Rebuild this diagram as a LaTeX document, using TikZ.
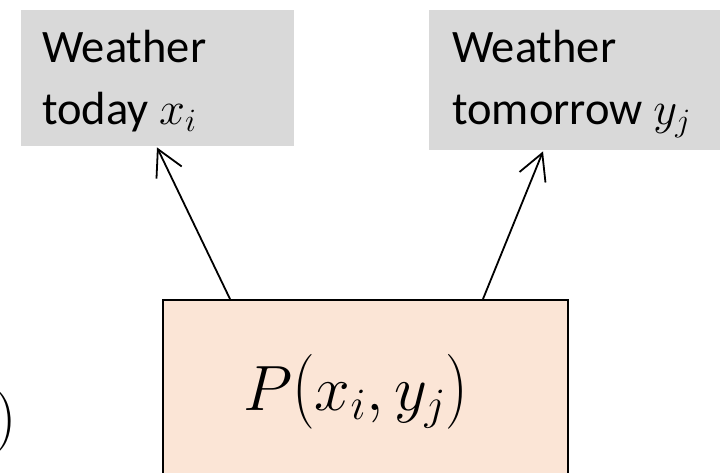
\RequirePackage{fix-cm}
\documentclass[tikz,border=0pt]{standalone}
\usepackage{fontspec}
\setmainfont{Carlito}
\usetikzlibrary{arrows.meta,calc}
\definecolor{boxgray}{HTML}{D9D9D9}
\definecolor{boxpink}{HTML}{FBE5D6}
\newcommand{\tallopen}{\mathopen{\scalebox{1}[1.17]{$($}}}
\newcommand{\tallclose}{\mathclose{\scalebox{1}[1.17]{$)$}}}
\begin{document}
\begin{tikzpicture}[x=1pt,y=-1pt,
  graybox/.style={fill=boxgray, draw=none, inner sep=0pt, anchor=north west},
  probbox/.style={fill=boxpink, draw=black, line width=2pt, inner sep=0pt, anchor=north west},
  lbl/.style={inner sep=0pt, anchor=base west, font=\fontsize{46.5}{56}\selectfont},
  arr/.style={line width=1.8pt, -{Straight Barb[length=26pt, width=28pt, line width=1.8pt]}}]
\useasboundingbox (0,0) rectangle (720,473);
\node[graybox, minimum width=273pt, minimum height=136pt] (today) at (21,10) {};
\node[graybox, minimum width=320pt, minimum height=140pt] (tomorrow) at (429,10) {};
\node[probbox, minimum width=405pt, minimum height=220pt] (joint) at (162,299) {};
\node[lbl] (t1) at (42,63) {Weather};
\node[lbl] (t2) at (42,125) {today $x_i$};
\node[lbl] (t3) at (452,63) {Weather};
\node[lbl] (t4) at (452,125) {tomorrow $y_j$};
\node[inner sep=0pt, anchor=base west, font=\fontsize{64}{76}\selectfont] (pt) at (243,410) {$P\tallopen x_i, y_j\tallclose$};
\node[inner sep=0pt, anchor=base east, font=\fontsize{63}{72}\selectfont] (lp) at (17,437) {$)$};
\draw[arr] ($(joint.north west)+(68,0)$) -- ($(today.south west)+(136,1)$);
\draw[arr] ($(joint.north west)+(321,0)$) -- ($(tomorrow.south west)+(114,1)$);
\end{tikzpicture}
\end{document}
